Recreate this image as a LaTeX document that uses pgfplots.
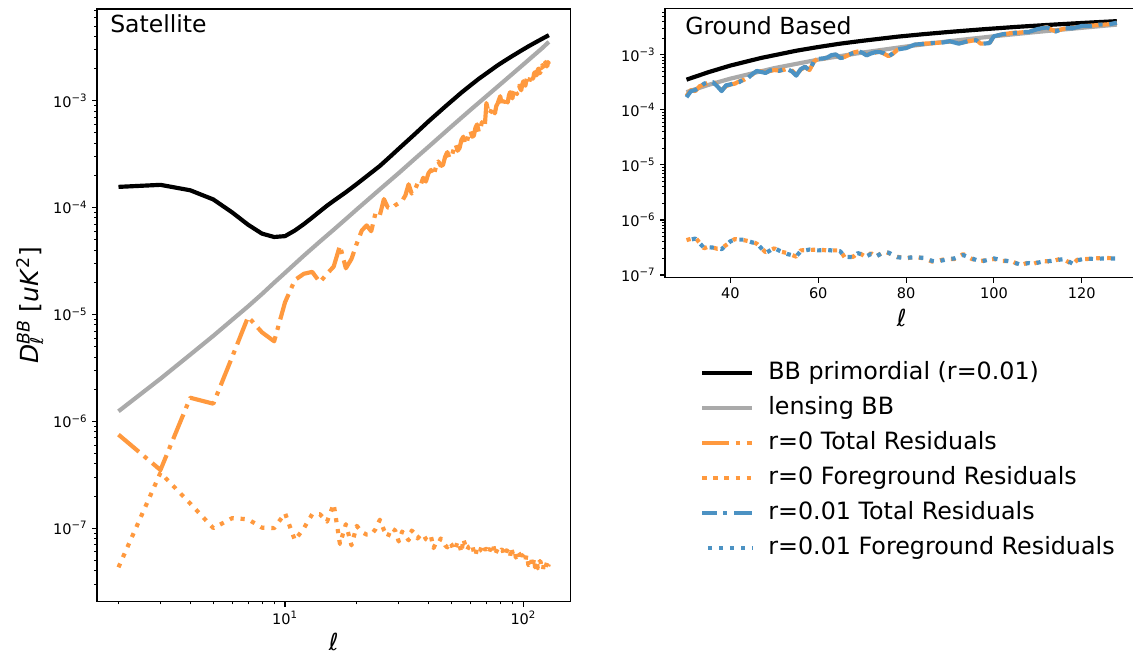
\documentclass[border=0pt]{standalone}
\usepackage{fontspec}
\setmainfont{DejaVu Sans}
\usepackage{pgfplots}
\usepackage{pgfplotstable}
\pgfplotsset{compat=1.18}
\definecolor{cor}{RGB}{255,153,62}
\definecolor{cbl}{RGB}{76,146,195}
\definecolor{cgr}{RGB}{170,170,170}
\newcommand{\tp}[1]{10\textsuperscript{#1}}

\pgfplotstableread{
l v
2 1.56e-4
3 1.63e-4
4 1.45e-4
5 1.19e-4
6 9.0e-5
7 6.9e-5
8 5.7e-5
9 5.3e-5
10 5.4e-5
11 6.1e-5
12 7.0e-5
13 8.05e-5
14 9.2e-5
15 1.04e-4
16 1.155e-4
18 1.39e-4
20 1.66e-4
22 1.96e-4
25 2.45e-4
28 3.08e-4
30 3.55e-4
35 4.85e-4
40 6.4e-4
47 8.8e-4
55 1.19e-3
60 1.39e-3
65 1.6e-3
70 1.8e-3
78 2.14e-3
84 2.38e-3
90 2.62e-3
98 2.94e-3
105 3.22e-3
112 3.49e-3
118 3.72e-3
123 3.91e-3
128 4.1e-3
}\blackL

\pgfplotstableread{
l v
30 3.55e-4
35 4.85e-4
40 6.4e-4
47 8.8e-4
55 1.19e-3
60 1.39e-3
65 1.6e-3
70 1.8e-3
78 2.14e-3
84 2.38e-3
90 2.62e-3
98 2.94e-3
105 3.22e-3
112 3.49e-3
118 3.72e-3
123 3.91e-3
128 4.1e-3
}\blackR

\pgfplotstableread{
l v
2 1.24e-6
3 2.5e-6
4 4.2e-6
5 6.3e-6
6 8.9e-6
7 1.19e-5
8 1.55e-5
9 1.98e-5
10 2.45e-5
12 3.55e-5
14 4.8e-5
16 6.2e-5
18 7.8e-5
20 9.6e-5
25 1.48e-4
30 2.1e-4
35 2.85e-4
40 3.7e-4
50 5.75e-4
60 8.2e-4
70 1.1e-3
80 1.42e-3
90 1.78e-3
100 2.18e-3
110 2.62e-3
120 3.1e-3
128 3.55e-3
}\grayL

\pgfplotstableread{
l v
30 2.1e-4
35 2.85e-4
40 3.7e-4
50 5.75e-4
60 8.2e-4
70 1.1e-3
80 1.42e-3
90 1.78e-3
100 2.18e-3
110 2.62e-3
120 3.1e-3
128 3.55e-3
}\grayR

\pgfplotstableread{
l v
2 7.5e-7
3 3.5e-7
4 1.66e-6
5 1.46e-6
6 4.0e-6
7 9.5e-6
8 6.8e-6
9 5.6e-6
10 1.3e-5
11 2.1e-5
12 2.4e-5
13 2.5e-5
14 2.0e-5
15 2.4e-5
16 2.8e-5
17 4.4e-5
18 2.7e-5
19 3.3e-5
20 4.6e-5
21 6.1e-5
22 6.8e-5
23 6.0e-5
24 9.0e-5
25 8.5e-5
26 1.2e-4
27 1.0e-4
28 9.8e-5
29 1.05e-4
30 1.1e-4
31 1.15e-4
32 1.3e-4
33 1.65e-4
34 1.35e-4
35 1.45e-4
36 1.68e-4
37 1.6e-4
38 1.9e-4
39 1.75e-4
40 2.1e-4
41 2.25e-4
42 2.0e-4
43 2.4e-4
44 2.7e-4
45 2.45e-4
46 2.5e-4
47 3.0e-4
48 3.3e-4
49 2.9e-4
50 3.0e-4
51 3.5e-4
52 3.9e-4
53 3.4e-4
54 3.6e-4
55 4.3e-4
56 4.6e-4
57 3.9e-4
58 4.1e-4
59 4.9e-4
60 5.2e-4
61 4.6e-4
62 4.7e-4
63 5.6e-4
64 6.0e-4
65 5.1e-4
66 5.4e-4
67 6.3e-4
68 5.8e-4
69 6.0e-4
70 9.5e-4
71 8.2e-4
72 7.5e-4
73 7.9e-4
74 8.6e-4
75 8.0e-4
76 7.6e-4
77 8.9e-4
78 9.4e-4
79 1.02e-3
80 1.1e-3
81 9.5e-4
82 8.8e-4
83 1.0e-3
84 1.08e-3
85 1.0e-3
86 9.6e-4
87 1.12e-3
88 1.2e-3
89 1.1e-3
90 1.05e-3
91 1.22e-3
92 1.3e-3
93 1.2e-3
94 1.15e-3
95 1.3e-3
96 1.38e-3
97 1.3e-3
98 1.25e-3
99 1.42e-3
100 1.52e-3
101 1.42e-3
102 1.38e-3
103 1.55e-3
104 1.65e-3
105 1.55e-3
106 1.5e-3
107 1.7e-3
108 1.75e-3
109 1.6e-3
110 1.62e-3
111 1.8e-3
112 1.85e-3
113 1.72e-3
114 1.75e-3
115 1.95e-3
116 2.0e-3
117 1.8e-3
118 1.85e-3
119 2.05e-3
120 2.15e-3
121 2.0e-3
122 1.95e-3
123 2.2e-3
124 2.3e-3
125 2.1e-3
126 2.1e-3
127 2.3e-3
128 2.2e-3
}\totL

\pgfplotstableread{
l v
2 4.3e-8
3 3.3e-7
4 1.7e-7
5 1.0e-7
6 1.24e-7
7 1.21e-7
8 1.01e-7
9 1.0e-7
10 1.38e-7
11 7.7e-8
12 1.0e-7
13 1.35e-7
14 1.35e-7
15 1.15e-7
16 1.68e-7
17 7.1e-8
18 1.09e-7
19 6.9e-8
20 1.05e-7
21 9.2e-8
22 8.7e-8
23 8.7e-8
24 9.8e-8
25 1.2e-7
26 9.6e-8
27 8.3e-8
28 1.0e-7
29 9.5e-8
30 7.5e-8
31 9.3e-8
32 8.5e-8
33 7.7e-8
34 9.5e-8
35 8.9e-8
36 8.0e-8
37 8.6e-8
38 8.8e-8
39 7.9e-8
40 7.6e-8
41 8.3e-8
42 6.5e-8
43 7.3e-8
44 7.2e-8
45 8.0e-8
46 7.6e-8
47 6.9e-8
48 6.6e-8
49 7.4e-8
50 7.0e-8
51 6.2e-8
52 6.6e-8
53 7.5e-8
54 6.9e-8
55 5.9e-8
56 7.9e-8
57 7.0e-8
58 6.2e-8
59 6.7e-8
60 6.8e-8
61 7.1e-8
62 5.9e-8
63 5.5e-8
64 6.6e-8
65 6.1e-8
66 6.2e-8
67 6.9e-8
68 7.0e-8
69 6.3e-8
70 6.4e-8
71 5.8e-8
72 6.0e-8
73 6.7e-8
74 6.4e-8
75 6.8e-8
76 5.6e-8
77 6.0e-8
78 6.4e-8
79 6.1e-8
80 6.0e-8
81 6.3e-8
82 6.2e-8
83 5.5e-8
84 5.7e-8
85 6.2e-8
86 6.1e-8
87 5.6e-8
88 5.4e-8
89 6.6e-8
90 5.9e-8
91 6.1e-8
92 6.3e-8
93 5.3e-8
94 5.5e-8
95 6.0e-8
96 5.8e-8
97 5.2e-8
98 5.0e-8
99 5.6e-8
100 5.3e-8
101 5.0e-8
102 4.9e-8
103 5.6e-8
104 5.4e-8
105 4.5e-8
106 4.6e-8
107 5.0e-8
108 5.1e-8
109 4.3e-8
110 4.7e-8
111 5.2e-8
112 4.3e-8
113 4.6e-8
114 4.8e-8
115 4.2e-8
116 4.5e-8
117 4.9e-8
118 4.9e-8
119 4.4e-8
120 4.4e-8
121 4.1e-8
122 4.7e-8
123 4.4e-8
124 4.3e-8
125 4.6e-8
126 4.9e-8
127 4.4e-8
128 4.6e-8
}\fgL

\pgfplotstableread{
l a b
30 1.8e-4 1.7e-4
31 2.3e-4 2.2e-4
32 2.2e-4 2.3e-4
33 2.7e-4 2.6e-4
34 2.9e-4 3.0e-4
35 3.1e-4 3.2e-4
36 3.3e-4 3.2e-4
37 2.8e-4 2.7e-4
38 2.3e-4 2.2e-4
39 2.7e-4 2.8e-4
40 2.9e-4 2.9e-4
41 3.0e-4 3.1e-4
42 3.3e-4 3.2e-4
43 3.5e-4 3.6e-4
44 3.9e-4 3.8e-4
45 4.4e-4 4.5e-4
46 5.2e-4 5.1e-4
47 5.0e-4 4.9e-4
48 4.8e-4 4.7e-4
49 5.1e-4 5.2e-4
50 5.3e-4 5.4e-4
51 5.2e-4 5.1e-4
52 5.3e-4 5.4e-4
53 5.6e-4 5.5e-4
54 5.2e-4 5.0e-4
55 4.3e-4 4.2e-4
56 5.4e-4 5.5e-4
57 6.0e-4 6.1e-4
58 5.3e-4 5.2e-4
59 7.5e-4 7.6e-4
60 8.7e-4 8.5e-4
61 8.4e-4 8.6e-4
62 9.0e-4 8.9e-4
63 9.8e-4 9.9e-4
64 1.0e-3 1.02e-3
65 8.9e-4 8.8e-4
66 9.2e-4 9.0e-4
67 1.0e-3 1.02e-3
68 1.1e-3 1.08e-3
69 1.15e-3 1.17e-3
70 1.12e-3 1.1e-3
71 1.0e-3 9.8e-4
72 1.05e-3 1.06e-3
73 1.1e-3 1.12e-3
74 1.15e-3 1.13e-3
75 1.05e-3 1.07e-3
76 9.5e-4 9.3e-4
77 1.05e-3 1.07e-3
78 1.23e-3 1.25e-3
80 1.35e-3 1.33e-3
82 1.52e-3 1.54e-3
84 1.6e-3 1.58e-3
86 1.63e-3 1.65e-3
88 1.68e-3 1.66e-3
90 1.75e-3 1.77e-3
91 1.7e-3 1.68e-3
92 1.63e-3 1.6e-3
94 1.75e-3 1.77e-3
96 1.87e-3 1.85e-3
97 1.6e-3 1.58e-3
99 1.62e-3 1.64e-3
100 2.2e-3 2.18e-3
102 2.35e-3 2.37e-3
104 2.5e-3 2.48e-3
106 2.55e-3 2.57e-3
108 2.65e-3 2.62e-3
110 2.9e-3 2.95e-3
112 3.2e-3 3.15e-3
113 2.9e-3 2.95e-3
114 2.7e-3 2.65e-3
116 3.0e-3 3.05e-3
118 3.1e-3 3.05e-3
120 3.3e-3 3.35e-3
122 3.4e-3 3.35e-3
124 3.5e-3 3.55e-3
126 3.6e-3 3.55e-3
128 3.8e-3 3.85e-3
}\totR

\pgfplotstableread{
l a b
30 4.3e-7 4.2e-7
32 4.8e-7 4.6e-7
34 3.05e-7 3.1e-7
35 3.3e-7 3.2e-7
37 3.0e-7 3.1e-7
38 3.05e-7 2.95e-7
40 4.0e-7 4.1e-7
41 4.5e-7 4.4e-7
43 4.3e-7 4.4e-7
45 4.0e-7 3.9e-7
46 3.7e-7 3.8e-7
48 2.6e-7 2.5e-7
50 3.05e-7 3.1e-7
51 2.7e-7 2.8e-7
53 2.5e-7 2.4e-7
55 2.15e-7 2.2e-7
56 2.8e-7 2.7e-7
58 2.85e-7 2.9e-7
60 2.9e-7 2.8e-7
62 2.8e-7 2.85e-7
65 2.8e-7 2.7e-7
66 2.1e-7 2.15e-7
68 2.15e-7 2.1e-7
69 2.6e-7 2.5e-7
71 2.1e-7 2.2e-7
72 2.5e-7 2.4e-7
73 2.1e-7 2.15e-7
75 2.7e-7 2.6e-7
76 2.5e-7 2.55e-7
78 2.15e-7 2.1e-7
80 2.0e-7 2.05e-7
82 2.15e-7 2.1e-7
84 2.0e-7 2.05e-7
86 1.75e-7 1.8e-7
87 1.8e-7 1.75e-7
89 1.95e-7 1.9e-7
91 1.95e-7 2.0e-7
93 2.4e-7 2.3e-7
95 1.95e-7 2.0e-7
97 1.8e-7 1.75e-7
100 1.95e-7 2.0e-7
102 1.8e-7 1.85e-7
104 1.8e-7 1.75e-7
106 1.5e-7 1.55e-7
108 1.7e-7 1.65e-7
109 1.6e-7 1.6e-7
111 1.8e-7 1.75e-7
113 1.75e-7 1.8e-7
115 1.95e-7 1.9e-7
116 1.9e-7 1.95e-7
118 1.55e-7 1.6e-7
119 1.9e-7 1.85e-7
121 1.95e-7 2.0e-7
123 2.0e-7 1.95e-7
125 2.05e-7 2.0e-7
128 2.0e-7 2.0e-7
}\fgR

\begin{document}
\begin{tikzpicture}
\useasboundingbox (0,0) rectangle (815.76bp,-470.88bp);
\pgfplotsset{
  base/.style={
    scale only axis,
    width=340.8bp,
    axis line style={line width=0.8bp, black},
    tick align=outside,
    tick pos=left,
    major tick length=3.5bp,
    minor tick length=2bp,
    every major tick/.append style={line width=0.8bp, black},
    every minor tick/.append style={line width=0.6bp, black},
    tick label style={font=\fontsize{10.5}{12}\selectfont},
    clip=true,
  },
  tot/.style={line width=3bp, line cap=butt, line join=round,
    dash pattern=on 19.2bp off 4.8bp on 3bp off 4.8bp},
  fg/.style={line width=3bp, line cap=butt, line join=round,
    dash pattern=on 3bp off 4.95bp},
  sol/.style={line width=3bp, line join=round},
}
% ---------------- Satellite ----------------
\begin{axis}[base,
  at={(69.84bp,-433.2bp)}, anchor=south west,
  height=426.7bp,
  xmode=log, ymode=log,
  xmin=1.625, xmax=157.5,
  ymin=2.05e-8, ymax=7.2e-3,
  xtick={10,100}, xticklabels={\tp{1},\tp{2}},
  minor xtick={2,3,4,5,6,7,8,9,20,30,40,50,60,70,80,90},
  ytick={1e-7,1e-6,1e-5,1e-4,1e-3},
  yticklabels={\tp{−7},\tp{−6},\tp{−5},\tp{−4},\tp{−3}},
  minor ytick={3e-8,4e-8,5e-8,6e-8,7e-8,8e-8,9e-8,
    2e-7,3e-7,4e-7,5e-7,6e-7,7e-7,8e-7,9e-7,
    2e-6,3e-6,4e-6,5e-6,6e-6,7e-6,8e-6,9e-6,
    2e-5,3e-5,4e-5,5e-5,6e-5,7e-5,8e-5,9e-5,
    2e-4,3e-4,4e-4,5e-4,6e-4,7e-4,8e-4,9e-4,
    2e-3,3e-3,4e-3,5e-3,6e-3,7e-3},
  xlabel={ℓ},
  xlabel style={at={(axis description cs:0.5,-0.068)}, anchor=center, font=\fontsize{17}{20}\selectfont},
  ylabel={\textit{D}\makebox[0pt][l]{\textsubscript{ℓ}}\textsuperscript{\textit{BB}} [\textit{uK}\textsuperscript{2}]},
  ylabel style={at={(axis description cs:-0.1415,0.5)}, anchor=center, font=\fontsize{18}{20}\selectfont},
]
\addplot[sol, black] table[x=l, y=v] {\blackL};
\addplot[sol, cgr] table[x=l, y=v] {\grayL};
\addplot[tot, cor] table[x=l, y=v] {\totL};
\addplot[fg, cor] table[x=l, y=v] {\fgL};
\node[anchor=base west, inner sep=0pt, font=\fontsize{17}{20}\selectfont] at (axis description cs:0.0275,0.960) {Satellite};
\end{axis}
% ---------------- Ground Based ----------------
\begin{axis}[base,
  at={(478.8bp,-199.9bp)}, anchor=south west,
  height=193.5bp,
  ymode=log,
  xmin=25.1, xmax=132.9,
  ymin=8.95e-8, ymax=6.85e-3,
  xtick={40,60,80,100,120}, xticklabels={40,60,80,100,120},
  ytick={1e-7,1e-6,1e-5,1e-4,1e-3},
  yticklabels={\tp{−7},\tp{−6},\tp{−5},\tp{−4},\tp{−3}},
  minor ytick={2e-7,3e-7,4e-7,5e-7,6e-7,7e-7,8e-7,9e-7,
    2e-6,3e-6,4e-6,5e-6,6e-6,7e-6,8e-6,9e-6,
    2e-5,3e-5,4e-5,5e-5,6e-5,7e-5,8e-5,9e-5,
    2e-4,3e-4,4e-4,5e-4,6e-4,7e-4,8e-4,9e-4,
    2e-3,3e-3,4e-3,5e-3,6e-3},
  xlabel={ℓ},
  xlabel style={at={(axis description cs:0.5,-0.15)}, anchor=center, font=\fontsize{17}{20}\selectfont},
  legend cell align=left,
  legend style={draw=none, fill=none, at={(axis description cs:0.074,-0.311)}, anchor=north west,
    inner sep=0pt, row sep=8.3pt, font=\fontsize{17.2}{20}\selectfont,
    nodes={inner sep=0pt, text height=13pt, text depth=4pt},
    /tikz/every odd column/.append style={column sep=10bp}},
  legend image code/.code={\draw[#1] (0bp,0bp) -- (36bp,0bp);},
]
\addplot[sol, black] table[x=l, y=v] {\blackR};
\addlegendentry{BB primordial (r=0.01)}
\addplot[sol, cgr] table[x=l, y=v] {\grayR};
\addlegendentry{lensing BB}
\addplot[tot, cor] table[x=l, y=a] {\totR};
\addlegendentry{r=0 Total Residuals}
\addplot[fg, cor] table[x=l, y=a] {\fgR};
\addlegendentry{r=0 Foreground Residuals}
\addplot[tot, cbl, dash phase=9bp] table[x=l, y=b] {\totR};
\addlegendentry{r=0.01 Total Residuals}
\addplot[fg, cbl, dash phase=4bp] table[x=l, y=b] {\fgR};
\addlegendentry{r=0.01 Foreground Residuals}
\node[anchor=base west, inner sep=0pt, font=\fontsize{17}{20}\selectfont] at (axis description cs:0.0423,0.9032) {Ground Based};
\end{axis}
\end{tikzpicture}
\end{document}
